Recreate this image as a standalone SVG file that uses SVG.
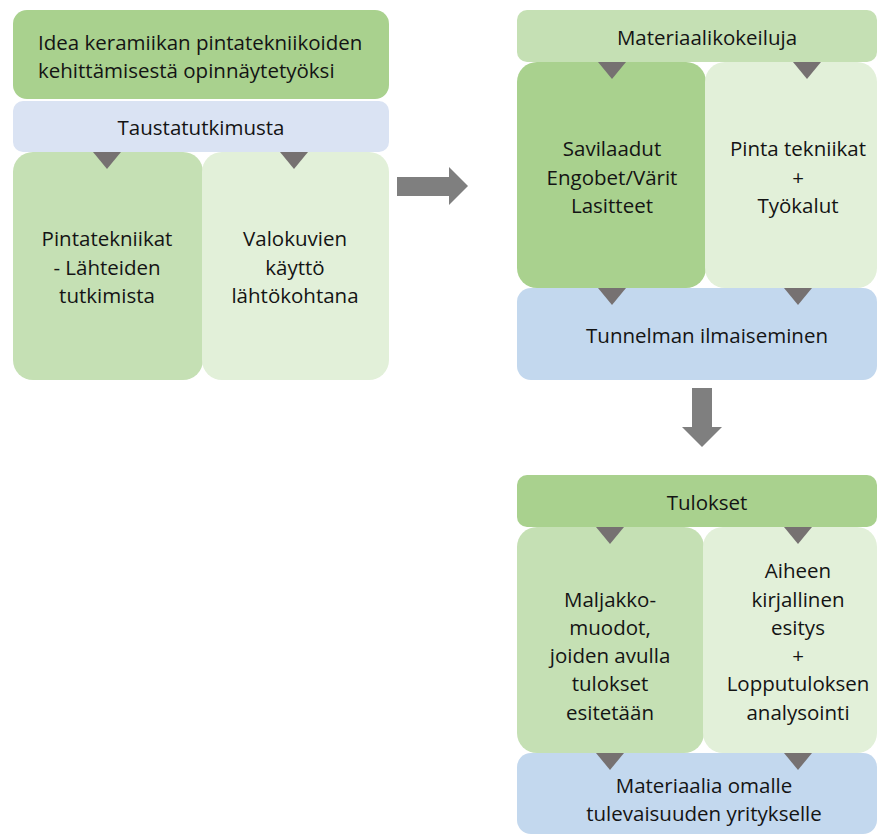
<svg xmlns="http://www.w3.org/2000/svg" width="884" height="836" viewBox="0 0 884 836">
<style>
.t{font-family:"Open Sans","Noto Sans","Liberation Sans",sans-serif;font-size:20.5px;fill:#141414;text-anchor:middle;dominant-baseline:central}
.tl{text-anchor:start}
.tri{fill:#767171}
.arr{fill:#7f7f7f}
.g1{fill:#a9d18e}
.g2{fill:#c5e0b4}
.g3{fill:#e2f0d9}
.b1{fill:#dae3f3}
.b2{fill:#c3d8ee}
</style>
<rect width="884" height="836" fill="#ffffff"/>
<g id="idea"><rect class="g1" x="13" y="10" width="376" height="89" rx="14"/>
<text class="t tl" x="38" y="42">Idea keramiikan pintatekniikoiden</text>
<text class="t tl" x="38" y="70">kehittämisestä opinnäytetyöksi</text></g>
<g id="tausta"><rect class="b1" x="13" y="101" width="376" height="51" rx="10"/>
<text class="t" x="201" y="127">Taustatutkimusta</text></g>
<g id="pinta"><rect class="g2" x="13" y="152" width="190" height="228" rx="20"/>
<text class="t" x="107" y="238">Pintatekniikat</text>
<text class="t" x="107" y="267">- Lähteiden</text>
<text class="t" x="107" y="295">tutkimista</text></g>
<g id="valo"><rect class="g3" x="202" y="152" width="187" height="228" rx="20"/>
<text class="t" x="295" y="238">Valokuvien</text>
<text class="t" x="295" y="267">käyttö</text>
<text class="t" x="295" y="295">lähtökohtana</text></g>

<g id="materiaali"><rect class="g2" x="517" y="10" width="360" height="52" rx="10"/>
<text class="t" x="707" y="37">Materiaalikokeiluja</text></g>
<g id="savi"><rect class="g1" x="517" y="62" width="189" height="226" rx="20"/>
<text class="t" x="612" y="148">Savilaadut</text>
<text class="t" x="612" y="177">Engobet/Värit</text>
<text class="t" x="612" y="205">Lasitteet</text></g>
<g id="pintatek"><rect class="g3" x="705" y="62" width="172" height="226" rx="20"/>
<text class="t" x="798" y="148">Pinta tekniikat</text>
<text class="t" x="798" y="177">+</text>
<text class="t" x="798" y="205">Työkalut</text></g>
<g id="tunnelma"><rect class="b2" x="517" y="288" width="360" height="92" rx="14"/>
<text class="t" x="707" y="335">Tunnelman ilmaiseminen</text></g>

<g id="tulokset"><rect class="g1" x="517" y="475" width="360" height="52" rx="10"/>
<text class="t" x="707" y="502">Tulokset</text></g>
<g id="maljakko"><rect class="g2" x="517" y="527" width="187" height="226" rx="20"/>
<text class="t" x="610" y="599">Maljakko-</text>
<text class="t" x="610" y="627">muodot,</text>
<text class="t" x="610" y="655">joiden avulla</text>
<text class="t" x="610" y="683">tulokset</text>
<text class="t" x="610" y="712">esitetään</text></g>
<g id="aiheen"><rect class="g3" x="703" y="527" width="174" height="226" rx="20"/>
<text class="t" x="798" y="570">Aiheen</text>
<text class="t" x="798" y="599">kirjallinen</text>
<text class="t" x="798" y="627">esitys</text>
<text class="t" x="798" y="655">+</text>
<text class="t" x="798" y="683">Lopputuloksen</text>
<text class="t" x="798" y="712">analysointi</text></g>
<g id="omalle"><rect class="b2" x="517" y="753" width="360" height="81" rx="14"/>
<text class="t" x="704" y="785">Materiaalia omalle</text>
<text class="t" x="704" y="813">tulevaisuuden yritykselle</text></g>

<g id="connectors">
<polygon class="tri" points="93,152 121,152 107,169"/>
<polygon class="tri" points="280,152 308,152 294,169"/>
<polygon class="tri" points="598,62 626,62 612,79"/>
<polygon class="tri" points="793,62 821,62 807,79"/>
<polygon class="tri" points="598,288 626,288 612,305"/>
<polygon class="tri" points="784,288 812,288 798,305"/>
<polygon class="tri" points="596,527 624,527 610,544"/>
<polygon class="tri" points="784,527 812,527 798,544"/>
<polygon class="tri" points="596,753 624,753 610,770"/>
<polygon class="tri" points="784,753 812,753 798,770"/>
<polygon class="arr" points="397,177 449,177 449,167 468,186 449,205 449,196 397,196"/>
<polygon class="arr" points="692,388 712,388 712,427 722,427 702,447 682,427 692,427"/>
</g>
</svg>
